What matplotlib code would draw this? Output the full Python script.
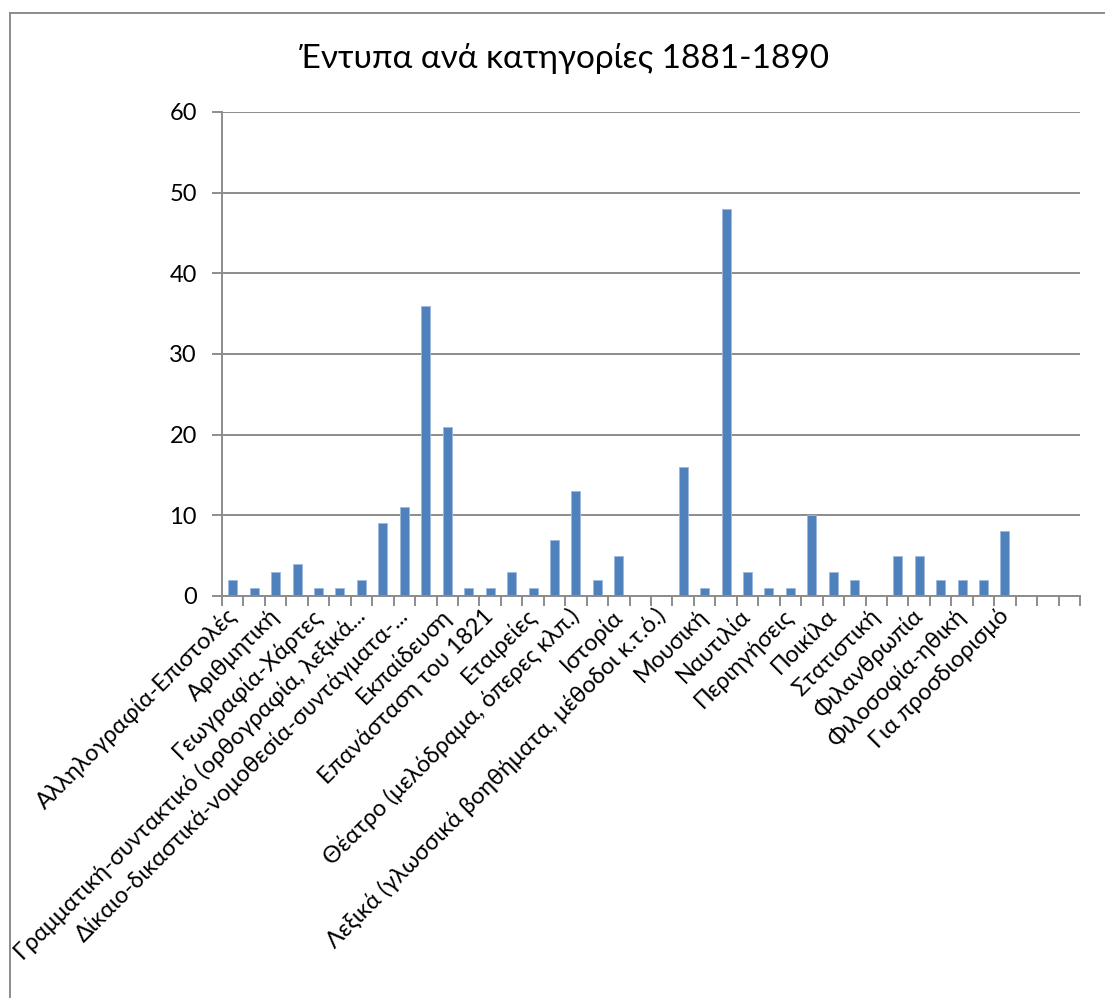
import matplotlib
matplotlib.use("Agg")
import matplotlib.pyplot as plt
from matplotlib.lines import Line2D
import numpy as np

plt.rcParams['font.family'] = ['Lato', 'DejaVu Sans']

title = "Έντυπα ανά κατηγορίες 1881-1890"

# 40 categories; only every other category label is shown on the axis (as in the original)
shown_labels = [
    "Αλληλογραφία-Επιστολές",
    "Αριθμητική",
    "Γεωγραφία-Χάρτες",
    "Γραμματική-συντακτικό (ορθογραφία, λεξικά...",
    "Δίκαιο-δικαστικά-νομοθεσία-συντάγματα-...",
    "Εκπαίδευση",
    "Επανάσταση του 1821",
    "Εταιρείες",
    "Θέατρο (μελόδραμα, όπερες κλπ.)",
    "Ιστορία",
    "Λεξικά (γλωσσικά βοηθήματα, μέθοδοι κ.τ.ό.)",
    "Μουσική",
    "Ναυτιλία",
    "Περιηγήσεις",
    "Ποικίλα",
    "Στατιστική",
    "Φιλανθρωπία",
    "Φιλοσοφία-ηθική",
    "Για προσδιορισμό",
    "",
]

values = [2, 1, 3, 4, 1, 1, 2, 9, 11, 36,
          21, 1, 1, 3, 1, 7, 13, 2, 5, 0,
          0, 16, 1, 48, 3, 1, 1, 10, 3, 2,
          0, 5, 5, 2, 2, 2, 8, 0, 0, 0]

y_ticks = [0, 10, 20, 30, 40, 50, 60]

W, H = 1105, 998
fig = plt.figure(figsize=(W / 100, H / 100), dpi=100)
fig.patch.set_facecolor("white")

left, right, top, bottom = 222, 1080, 112, 596
ax = fig.add_axes([left / W, 1 - bottom / H, (right - left) / W, (bottom - top) / H])

n = len(values)
x = np.arange(n)
ax.bar(x, values, width=0.42, color="#4F81BD", edgecolor="#9DB9DE", linewidth=0.6, zorder=3)

ax.set_xlim(-0.5, n - 0.5)
ax.set_ylim(0, 60)

grid_c = "#8C8C8C"
ax.set_yticks(y_ticks)
ax.yaxis.grid(True, color=grid_c, linewidth=1.4, zorder=0)
ax.tick_params(axis="y", length=7, width=1.4, color=grid_c, labelsize=17, pad=11)

# category boundaries as tick marks
ax.set_xticks(np.arange(-0.5, n, 1.0))
ax.set_xticklabels([])
ax.tick_params(axis="x", which="major", length=7, width=1.4, color=grid_c, direction="out")
# labels at every other category center
ax.set_xticks(x[::2], minor=True)
ax.set_xticklabels(shown_labels, minor=True, rotation=45, ha="right", va="center",
                   rotation_mode="anchor", fontsize=16.8)
ax.tick_params(axis="x", which="minor", length=0, pad=12)

for s in ["top", "right"]:
    ax.spines[s].set_visible(False)
for s in ["left", "bottom"]:
    ax.spines[s].set_color(grid_c)
    ax.spines[s].set_linewidth(1.4)
    ax.spines[s].set_zorder(4)

fig.text(564 / W, 1 - 58 / H, title, ha="center", va="center", fontsize=24)

# chart-area border (cropped on the right and bottom)
fig.add_artist(Line2D([10 / W, 10 / W], [1 - 13 / H, 0], transform=fig.transFigure,
                      color=grid_c, linewidth=1.4))
fig.add_artist(Line2D([10 / W, 1], [1 - 13 / H, 1 - 13 / H], transform=fig.transFigure,
                      color=grid_c, linewidth=1.4))

fig.savefig("out.png", dpi=100, facecolor="white")
